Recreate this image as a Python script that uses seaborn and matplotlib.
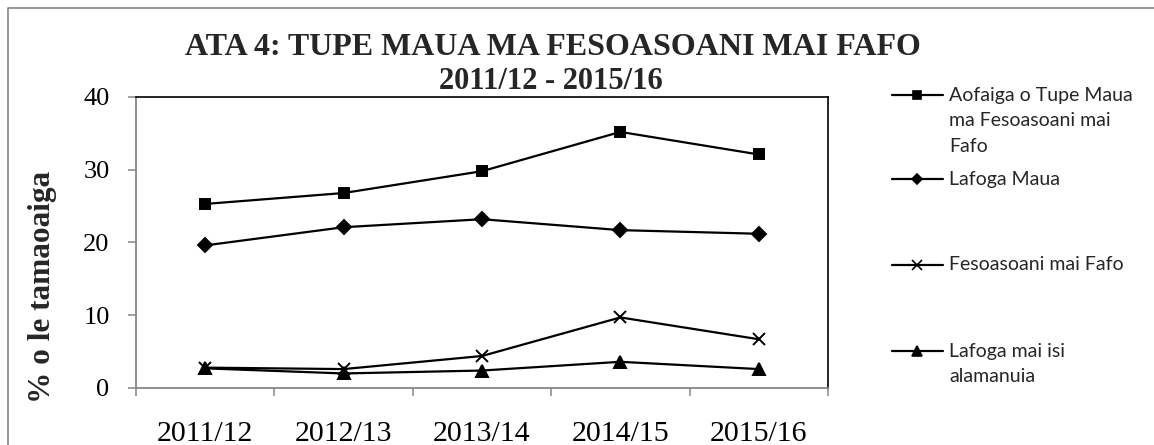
import numpy as np
import pandas as pd
import matplotlib
matplotlib.use('Agg')
import matplotlib.pyplot as plt
import seaborn as sns
from matplotlib.lines import Line2D
from matplotlib.ticker import FixedLocator

# data (% o le tamaoaiga)
years = ['2011/12', '2012/13', '2013/14', '2014/15', '2015/16']
aofaiga = [25.3, 26.8, 29.8, 35.2, 32.1]
lafoga_maua = [19.6, 22.1, 23.2, 21.7, 21.2]
fesoasoani = [2.8, 2.6, 4.4, 9.7, 6.7]
lafoga_isi = [2.7, 2.0, 2.4, 3.6, 2.6]

series_names = ['Aofaiga o Tupe Maua ma Fesoasoani mai Fafo', 'Lafoga Maua',
                'Fesoasoani mai Fafo', 'Lafoga mai isi alamanuia']
legend_lines = [['Aofaiga o Tupe Maua', 'ma Fesoasoani mai', 'Fafo'],
                ['Lafoga Maua'],
                ['Fesoasoani mai Fafo'],
                ['Lafoga mai isi', 'alamanuia']]
markers = ['s', 'D', 'x', '^']
marker_sizes = [7, 7, 8, 8]

df = pd.DataFrame({
    'year': years * 4,
    'value': aofaiga + lafoga_maua + fesoasoani + lafoga_isi,
    'series': np.repeat(series_names, len(years)),
})

sns.set_theme(style='white')
plt.rcParams['font.family'] = ['Liberation Serif', 'DejaVu Serif']

W, H = 1154, 445
fig = plt.figure(figsize=(W / 100, H / 100), dpi=100)
ax = fig.add_axes([136 / W, 1 - 388 / H, 692 / W, 291 / H])

# one call per series (filled and line markers can't be mixed in one call)
for name, mk, ms in zip(series_names, markers, marker_sizes):
    sns.lineplot(data=df[df['series'] == name], x='year', y='value', color='black',
                 marker=mk, markersize=ms, linewidth=1.6, markeredgecolor='black',
                 markeredgewidth=1.4, sort=False, ax=ax)

ax.set_xlim(-0.5, 4.5)
ax.set_ylim(0, 40)
ax.set_yticks([0, 10, 20, 30, 40])
ax.set_xticks(range(len(years)))
ax.set_xticklabels(years)
ax.xaxis.set_minor_locator(FixedLocator(np.arange(-0.5, 5, 1)))
ax.set_xlabel('')
ax.set_ylabel('')

grey = '#868686'
for side in ['left', 'bottom']:
    ax.spines[side].set_color(grey)
    ax.spines[side].set_linewidth(1.3)
for side in ['top', 'right']:
    ax.spines[side].set_color('black')
    ax.spines[side].set_linewidth(1.2)

ax.tick_params(axis='y', which='major', left=True, length=6, width=1.1, color=grey,
               labelsize=19, pad=13, labelcolor='black')
ax.tick_params(axis='x', which='major', bottom=True, length=0, labelsize=21.5, pad=24,
               labelcolor='black')
ax.tick_params(axis='x', which='minor', bottom=True, length=6, width=1.1, color=grey)

# title, two lines
fig.text(553 / W, 1 - 55 / H, 'ATA 4: TUPE MAUA MA FESOASOANI MAI FAFO', ha='center',
         va='baseline', fontsize=23, fontweight='bold')
fig.text(551 / W, 1 - 89 / H, '2011/12 - 2015/16', ha='center', va='baseline',
         fontsize=22, fontweight='bold')

# y axis title
fig.text(43 / W, 1 - 287 / H, '% o le tamaoaiga', rotation=90, ha='center', va='center',
         fontsize=22.5, fontweight='bold')

# legend drawn to the right of the plot
entry_y = [95, 179, 265, 351]
step = 25.7
for lines, y, mk, ms in zip(legend_lines, entry_y, markers, marker_sizes):
    yy = 1 - y / H
    fig.add_artist(Line2D([892 / W, 943 / W], [yy, yy], color='black', lw=1.6,
                          transform=fig.transFigure))
    fig.add_artist(Line2D([917 / W], [yy], color='black', marker=mk, ms=ms - 1.5,
                          mew=1.2, transform=fig.transFigure))
    for i, txt in enumerate(lines):
        fig.text(949 / W, 1 - (y + i * step) / H, txt, ha='left', va='center',
                 fontsize=14, family=['Lato', 'DejaVu Sans'])

# outer chart border
fig.add_artist(Line2D([8 / W, 8 / W, 1.0], [0.0, 1 - 8 / H, 1 - 8 / H], color=grey,
                      lw=1.2, transform=fig.transFigure))

fig.savefig('out.png', dpi=100)
